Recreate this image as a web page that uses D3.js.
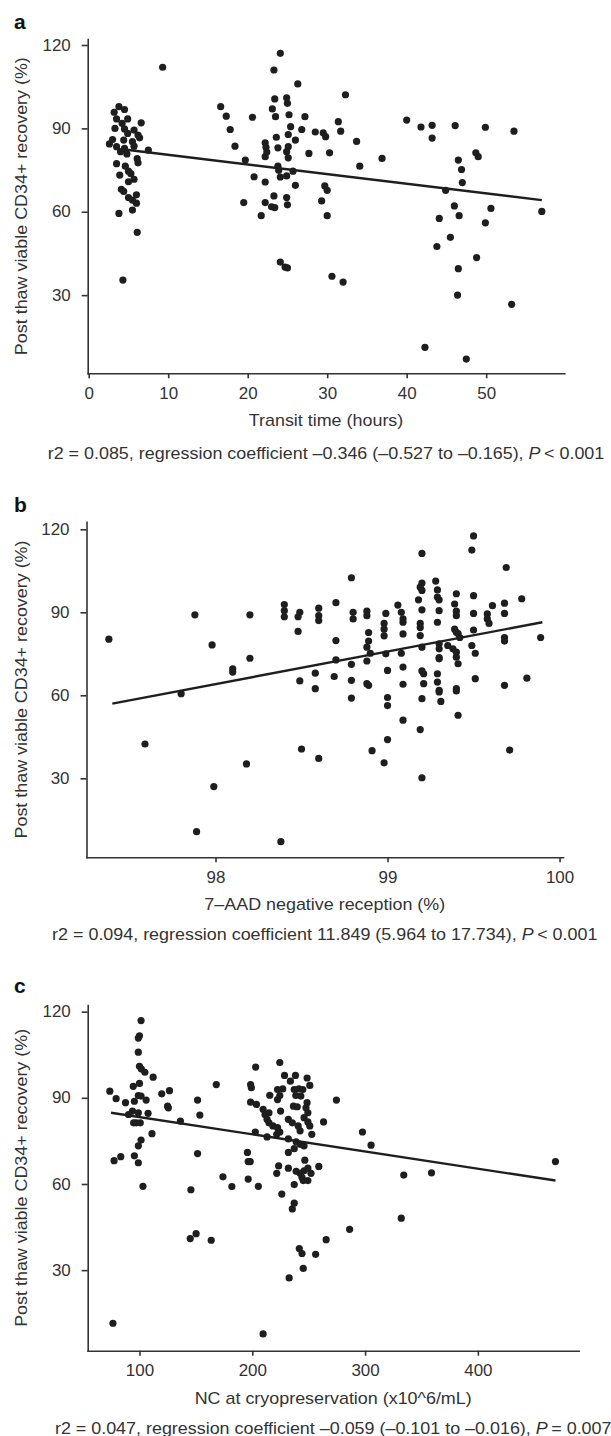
<!DOCTYPE html>
<html>
<head>
<meta charset="utf-8">
<script src="https://cdn.jsdelivr.net/npm/d3@7"></script>
<style>
body { margin: 0; background: #fff; }
svg text { font-family: "Liberation Sans", Arial, Helvetica, sans-serif; fill: #333; }
.axis path, .axis line { stroke: #333; stroke-width: 1.6px; }
</style>
</head>
<body>
<svg id="fig" width="611" height="1436"></svg>
<script>
// ---- panel a : transit time ----
var aX = [9.3,24.1,23.3,26.3,32.3,23.4,24.9,25.0,16.6,23.1,17.3,20.6,23.5,25.2,27.2,31.4,17.8,25.4,26.8,28.5,29.5,29.8,31.7,25.1,23.6,26.0,33.7,18.4,22.2,25.1,23.8,40.0,41.8,43.2,43.2,46.1,49.9,53.5,36.9,48.7,49.0,46.5,27.7,30.3,24.9,22.3,22.4,22.2,19.7,
  3.8,4.5,3.2,3.5,4.9,6.6,4.2,3.3,4.5,5.7,4.9,6.2,6.4,3.0,4.4,5.5,2.6,3.5,4.5,5.7,7.5,4.0,4.8,6.1,
  3.5,4.6,6.2,3.9,5.0,5.3,5.7,5.0,4.1,4.4,6.0,5.0,5.5,6.0,5.5,3.8,6.1,4.3,
  20.8,19.5,22.2,23.8,23.9,24.1,24.9,25.7,26.0,22.2,23.0,23.4,23.3,24.9,25.0,21.7,24.1,24.7,25.0,25.1,34.1,29.7,30.0,29.3,30.0,30.6,32.0,
  46.9,47.0,44.9,46.0,46.6,44.1,50.6,49.9,45.5,43.8,48.8,46.5,46.4,53.2,57.0,42.3,47.5];
var aY = [112,117,111,106,102.1,100.6,101,99,97.8,97,94.4,94,94.2,94.9,94.2,92.4,89.6,90.6,89.6,88.7,88.4,87,89,87.8,86.8,85.8,85.3,83.6,84.8,83.4,83,93,90.5,91.1,86.5,91,90.4,89,79.2,81.2,79.8,78.6,81,81.2,81.6,83.2,81.5,79.8,78.6,
  97.8,96.8,95.8,93.4,93.4,92,91.8,90,89.8,89.4,88.2,87.6,86.6,86,85.8,85.2,84.4,83.4,82.8,83.6,82.2,81.6,80.8,79.1,
  77.3,76.4,77.6,73.2,74.6,73.7,71.7,70.8,68.1,67.3,66.1,65.1,64.2,63.1,60.6,59.4,52.6,35.4,
  72.6,63.3,70.7,76.4,74.9,72.5,72.9,74.6,69.5,63.3,61.8,61.5,65.7,65.1,62.5,58.6,41.9,40.1,39.8,79.4,76.4,69.3,67.7,63.9,58.6,36.8,34.7,
  75.2,70.5,67.7,62.1,58.6,57.6,61.2,56,50.8,47.5,43.5,39.5,30,26.7,60.1,11.2,7.0];
var aLineX = [4.5, 57.0];
var aLineY = [82.4, 64.2];
var aTicks = [0, 10, 20, 30, 40, 50];

// ---- panel b : 7-AAD ----
var bX = [99.50,99.49,99.20,99.69,98.79,99.28,99.20,99.19,99.20,99.29,99.29,99.30,99.40,99.50,98.70,99.06,99.18,99.20,99.30,99.39,98.40,98.40,98.40,98.49,98.48,98.60,98.60,98.60,98.80,98.80,98.88,98.88,98.99,99.08,99.09,99.09,99.19,99.19,99.29,99.40,99.40,99.50,99.58,99.58,99.59,99.61,99.68,99.68,99.78,98.98,98.98,98.98,98.89,98.48,98.20,97.88,99.39,99.41,99.42,99.50,99.68,99.89,97.38,
  97.98,98.10,98.10,98.20,97.80,97.59,97.99,98.18,98.49,98.58,98.58,98.70,98.70,98.69,98.79,98.79,98.79,98.50,98.60,98.89,98.88,98.90,98.88,98.88,98.89,98.91,98.99,99.00,99.00,99.00,99.00,98.98,99.09,99.08,99.09,99.09,99.09,99.19,99.20,99.20,99.21,99.21,99.20,99.19,99.20,99.30,99.30,99.30,99.30,99.29,99.29,99.30,99.30,99.31,99.35,99.38,99.40,99.40,99.41,99.40,99.40,99.40,99.41,99.49,99.51,99.51,99.68,99.68,99.81,99.71,97.89,98.38];
var bY = [117.6,112.5,111.3,106.2,102.5,101.3,100.6,99.1,97.9,98.1,95.5,94.5,96.7,96.0,93.5,92.6,94.5,90.9,90.6,93,92.8,90.6,88.4,90,88.4,91.5,88.8,87,90,87.6,90.4,88.8,89.6,90,87.6,86.4,86,84.5,86.4,90.4,88.8,89.6,89.4,87.6,86,92.4,93.3,89.6,94.9,86,83.9,81.5,82.7,83.1,89.1,89.1,83.9,82.3,80.9,83.6,80.9,80.9,80.3,
  78.2,69.6,68.4,73.4,60.6,42.4,27,35.2,65.2,68,62.4,79.8,72.8,66.8,71.2,65.4,59,40.6,37.2,79.6,77.4,75.2,72.4,64.2,63.6,40,75,69,59.2,56.3,44,35.6,82.2,75.2,70.2,64,51,81.6,77.4,68.8,67.8,64.2,58.8,47.6,30.2,78.6,76.8,73.6,73.2,67.8,64.8,61.8,61.2,57.8,78,76.8,75.6,73.8,71.4,82.8,62.4,61.6,52.8,78,75.2,66,79.6,63.6,66.2,40.2,10.7,7.1];
var bLineX = [97.40, 99.90];
var bLineY = [57.0, 86.4];
var bTicks = [98, 99, 100];

// ---- panel c : NC at cryopreservation ----
var cX = [101.4,100,99,99,100,101.7,104.8,112.1,94.5,100,73.7,79.3,87.6,95.5,99,101.4,105.9,119.7,126.6,124.9,125.6,93.8,90.3,99,107.6,97.2,94.8,100.7,136.3,151.5,153.5,168.1,111.1,101.4,99,203,198.5,199.2,198.5,203.7,224.4,228.6,238.3,233.8,248.6,251,215.5,222.4,224.4,222.4,227,237.2,241.3,244.8,238.6,243.1,236.5,239.9,248.6,247.6,249.3,245.9,249.3,251,209.6,211.3,214.8,213.1,214.8,218.3,222.4,224.4,221.7,225.1,232,235.5,240.7,242.4,252.8,202.7,213.1,263.2,274.6,297.7,305.3,232,238.9,242.4,237.2,245.9,
  77.5,83.4,95.5,99,103.1,76.5,151.5,145.6,145,150.2,163.6,174,181.9,195.7,196.4,198.2,196.4,205.4,232,221.7,223.4,232,238.9,242.4,245.9,249.3,252.1,259,244.1,245.2,249.3,246.6,237.2,226.2,237.2,235.5,241.7,244.1,256.2,245.2,232.7,265.5,286.3,332.1,334.3,358.9,468.8,209.6];
var cY = [116.9,111.6,110.8,105.9,101,100,98.9,97.2,94,95,92.3,89.7,88.3,88.8,90.8,90.6,89.2,91.4,92.5,87.1,86.5,85.4,84.2,84.8,84.6,81.3,81.3,81.3,81.9,89.2,84,94.6,77.5,75.3,73.3,100.7,94.6,93.5,88.5,87.7,102.3,97.8,97.8,95.8,96.9,94.3,90.9,92.9,90.8,89.4,93.1,92.9,93.1,92.9,90.8,90.6,87.1,86.9,88.3,86.5,84.8,83.1,81.6,80.2,86,84.2,84.8,82.5,81.3,80.2,79.6,78.1,77.3,85.4,82.5,81.3,80.2,78.5,77.3,78.1,76.4,81.6,89.2,78.1,73.5,75.7,74.7,73.8,72.3,73.3,
  68.1,69.5,69.8,67.4,59.2,11.5,70.6,58,41,42.7,40.4,62.5,59.1,71,67.8,67.8,61.7,59.2,71,63.7,66.3,65.5,64.4,63.7,64.6,65.5,63.7,66.1,62.3,61.2,61.2,68.3,59.8,56.5,53.3,51.3,37.5,35.8,35.5,30.6,27.3,40.6,44.2,48.1,63.1,63.9,67.8,7.8];
var cLineX = [74.8, 468.8];
var cLineY = [84.8, 61.2];
var cTicks = [100, 200, 300, 400];

var yTicks = [30, 60, 90, 120];
var yTitle = "Post thaw viable CD34+ recovery (%)";

var panels = [
  {letter: "a", xs: aX, ys: aY, lx: aLineX, ly: aLineY, ticks: aTicks,
   xTitle: "Transit time (hours)",
   stat: ["r2 = 0.085, regression coefficient \u20130.346 (\u20130.527 to \u20130.165), ", "P", "\u2009< 0.001"],
   letterY: 28.5, left: 87.7, right: 564.3, top: 39, bottom: 373.3, statOff: 86,
   xDom: [-0.13, 59.83], yDom: [1.87, 122.16]},
  {letter: "b", xs: bX, ys: bY, lx: bLineX, ly: bLineY, ticks: bTicks,
   xTitle: "7\u2013AAD negative reception (%)",
   stat: ["r2 = 0.094, regression coefficient 11.849 (5.964 to 17.734), ", "P", "\u2009< 0.001"],
   letterY: 511.7, left: 86.5, right: 563, top: 521.7, bottom: 857.3, statOff: 83,
   xDom: [97.25, 100.02], yDom: [1.45, 122.75]},
  {letter: "c", xs: cX, ys: cY, lx: cLineX, ly: cLineY, ticks: cTicks,
   xTitle: "NC at cryopreservation (x10^6/mL)",
   stat: ["r2 = 0.047, regression coefficient \u20130.059 (\u20130.101 to \u20130.016), ", "P", "\u2009= 0.007"],
   letterY: 993.3, left: 87.7, right: 578.7, top: 1005, bottom: 1350.7, statOff: 83,
   xDom: [54.1, 489.4], yDom: [1.95, 122.32]}
];

var svg = d3.select("#fig");
var stretch = 1.12;
var fmt = d3.format("~g");

panels.forEach(function(p) {
  var x = d3.scaleLinear().domain(p.xDom).range([p.left, p.right]);
  var y = d3.scaleLinear().domain(p.yDom).range([p.bottom, p.top]);
  var g = svg.append("g");

  g.append("text").attr("x", 14).attr("y", p.letterY)
    .style("font-size", "21px").style("font-weight", "bold").style("fill", "#111")
    .text(p.letter);

  g.append("g").attr("class", "axis").attr("transform", "translate(" + p.left + ",0)")
    .call(d3.axisLeft(y).tickValues(yTicks).tickFormat(fmt).tickSize(6).tickSizeOuter(0).tickPadding(10));
  g.append("g").attr("class", "axis").attr("transform", "translate(0," + p.bottom + ")")
    .call(d3.axisBottom(x).tickValues(p.ticks).tickFormat(fmt).tickSize(5).tickSizeOuter(0).tickPadding(9));
  g.selectAll(".axis text").style("font-size", "16px").style("fill", "#333")
    .attr("font-family", null).attr("transform", "scale(1.06,1)");
  g.selectAll(".axis .domain").attr("stroke-linecap", "square");

  var cx = (p.left + p.right) / 2;
  var cy = (p.top + p.bottom) / 2;
  g.append("text")
    .attr("transform", "translate(27," + cy + ") rotate(-90) scale(" + stretch + ",1)")
    .attr("text-anchor", "middle").style("font-size", "16px").text(yTitle);

  g.append("text")
    .attr("transform", "translate(" + cx + "," + (p.bottom + 53) + ") scale(" + stretch + ",1)")
    .attr("text-anchor", "middle").style("font-size", "16px").text(p.xTitle);

  var st = g.append("text")
    .attr("transform", "translate(" + cx + "," + (p.bottom + p.statOff) + ") scale(" + stretch + ",1)")
    .attr("text-anchor", "middle").style("font-size", "16px");
  st.append("tspan").text(p.stat[0]);
  st.append("tspan").style("font-style", "italic").text(p.stat[1]);
  st.append("tspan").text(p.stat[2]);

  var pts = p.xs.map(function(v, i) { return [v, p.ys[i]]; });
  g.append("g").selectAll("circle").data(pts).enter().append("circle")
    .attr("cx", function(d) { return x(d[0]); })
    .attr("cy", function(d) { return y(d[1]); })
    .attr("r", 3.6).style("fill", "#1e1e1e");

  var seg = p.lx.map(function(v, i) { return [v, p.ly[i]]; });
  g.append("path").datum(seg)
    .attr("d", d3.line().x(function(d) { return x(d[0]); }).y(function(d) { return y(d[1]); }))
    .style("fill", "none").style("stroke", "#1e1e1e").style("stroke-width", 2.4);
});
</script>
</body>
</html>
